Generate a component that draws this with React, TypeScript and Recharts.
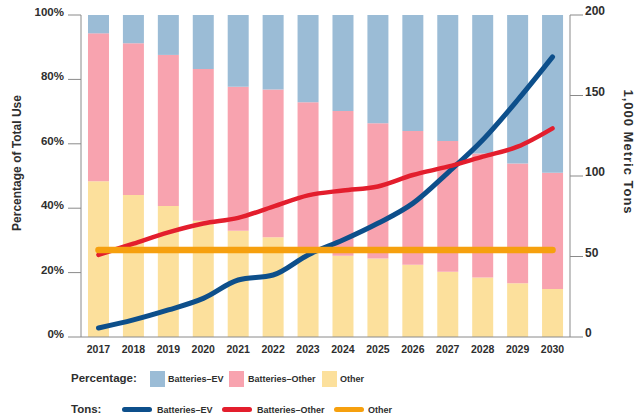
import React from 'react';
import { ComposedChart, Bar, Line, XAxis, YAxis } from 'recharts';

const years = ['2017', '2018', '2019', '2020', '2021', '2022', '2023', '2024', '2025', '2026', '2027', '2028', '2029', '2030'];

// Percentage of total use (stacked bars)
const pctOther = [48.4, 44.1, 40.7, 36.1, 33.0, 31.0, 27.5, 25.2, 24.4, 22.4, 20.3, 18.5, 16.7, 14.9];
const pctBatteriesOther = [45.9, 47.1, 46.9, 47.1, 44.7, 45.9, 45.4, 45.0, 42.0, 41.6, 40.6, 38.5, 37.2, 36.1];
const pctBatteriesEV = [5.7, 8.8, 12.4, 16.8, 22.3, 23.1, 27.1, 29.8, 33.6, 36.0, 39.1, 43.0, 46.1, 49.0];

// 1,000 metric tons (lines)
const tonsBatteriesEV = [5.6, 10.6, 16.8, 24.0, 35.4, 38.5, 51.0, 60.2, 70.6, 83.0, 102.0, 122.4, 147.2, 174.0];
const tonsBatteriesOther = [51.0, 58.0, 65.0, 70.5, 74.0, 81.0, 88.0, 91.0, 93.5, 100.6, 105.8, 112.0, 118.2, 129.6];
const tonsOther = [54, 54, 54, 54, 54, 54, 54, 54, 54, 54, 54, 54, 54, 54];

const pctTicks = [0, 20, 40, 60, 80, 100];
const tonTicks = [0, 50, 100, 150, 200];

const data = years.map((year, i) => ({
  year,
  pOther: pctOther[i],
  pBattOther: pctBatteriesOther[i],
  pBattEV: pctBatteriesEV[i],
  tEV: tonsBatteriesEV[i],
  tBattOther: tonsBatteriesOther[i],
  tOther: tonsOther[i],
}));

const FONT = '"Liberation Sans", Arial, Helvetica, sans-serif';
const C_EV_BAR = '#9bbcd6';
const C_BO_BAR = '#f8a3af';
const C_OT_BAR = '#fce09c';
const C_EV_LINE = '#0d4f8b';
const C_BO_LINE = '#e31e2d';
const C_OT_LINE = '#f6a00e';
const AXIS = '#8a8a8a';
const TEXT = '#2e2e2e';

const LeftTick = (props: any) => {
  const { x, y, payload } = props;
  return (
    <text x={x} y={y - 3} textAnchor="end" dominantBaseline="central" fontSize={11.5} fontWeight="bold" fill={TEXT} fontFamily={FONT}>
      {payload.value + '%'}
    </text>
  );
};

const RightTick = (props: any) => {
  const { x, y, payload } = props;
  return (
    <text x={x} y={y - 4} textAnchor="start" dominantBaseline="central" fontSize={12} fontWeight="bold" fill={TEXT} fontFamily={FONT}>
      {payload.value}
    </text>
  );
};

const BottomTick = (props: any) => {
  const { x, y, payload } = props;
  return (
    <text x={x} y={y + 8} textAnchor="middle" fontSize={10.5} fontWeight="bold" fill={TEXT} fontFamily={FONT}>
      {payload.value}
    </text>
  );
};

const AxisTitle = (props: any) => {
  const { tx, ty, rot, text, size, spacing } = props;
  return (
    <g transform={`translate(${tx}, ${ty}) rotate(${rot})`}>
      <text
        x={0}
        y={0}
        textAnchor="middle"
        dominantBaseline="central"
        fontSize={size}
        fontWeight="bold"
        letterSpacing={spacing}
        fill={TEXT}
        fontFamily={FONT}
      >
        {text}
      </text>
    </g>
  );
};

const swatch = (left: number, color: string): React.CSSProperties => ({
  position: 'absolute', left, top: 371, width: 15, height: 16, background: color,
});
const lineSw = (left: number, color: string): React.CSSProperties => ({
  position: 'absolute', left, top: 407, width: 30, height: 5, borderRadius: 3, background: color,
});
const label = (left: number, top: number, size: number): React.CSSProperties => ({
  position: 'absolute', left, top, fontSize: size, fontWeight: 'bold', color: TEXT, lineHeight: '14px',
  whiteSpace: 'nowrap', fontFamily: FONT,
});

export default function App() {
  return (
    <div style={{ position: 'absolute', left: 0, top: 0, width: 635, height: 418, background: '#fff', fontFamily: FONT }}>
      <ComposedChart
        width={635}
        height={418}
        data={data}
        margin={{ top: 15, right: 0, bottom: 51, left: 0 }}
        barCategoryGap="20%"
      >
        <XAxis
          dataKey="year"
          xAxisId="x"
          axisLine={{ stroke: AXIS }}
          tickLine={false}
          tick={<BottomTick />}
          height={30}
          interval={0}
        />
        <YAxis
          yAxisId="pct"
          orientation="left"
          width={81}
          domain={[0, 100]}
          ticks={pctTicks}
          axisLine={{ stroke: AXIS }}
          tickLine={{ stroke: AXIS }}
          tickSize={13}
          tickMargin={4}
          tick={<LeftTick />}
          label={<AxisTitle tx={17} ty={163} rot={-90} text="Percentage of Total Use" size={12} spacing={0} />}
        />
        <YAxis
          yAxisId="tons"
          orientation="right"
          width={65}
          domain={[0, 200]}
          ticks={tonTicks}
          axisLine={{ stroke: AXIS }}
          tickLine={{ stroke: AXIS }}
          tickSize={13}
          tickMargin={2}
          tick={<RightTick />}
          label={<AxisTitle tx={628.5} ty={152} rot={90} text="1,000 Metric Tons" size={13} spacing={1} />}
        />
        <Bar xAxisId="x" yAxisId="pct" dataKey="pOther" stackId="p" fill={C_OT_BAR} isAnimationActive={false} />
        <Bar xAxisId="x" yAxisId="pct" dataKey="pBattOther" stackId="p" fill={C_BO_BAR} isAnimationActive={false} />
        <Bar xAxisId="x" yAxisId="pct" dataKey="pBattEV" stackId="p" fill={C_EV_BAR} isAnimationActive={false} />
        <Line xAxisId="x" yAxisId="tons" type="monotone" dataKey="tEV" stroke={C_EV_LINE} strokeWidth={5} strokeLinecap="round" dot={false} activeDot={false} isAnimationActive={false} />
        <Line xAxisId="x" yAxisId="tons" type="monotone" dataKey="tBattOther" stroke={C_BO_LINE} strokeWidth={4.5} strokeLinecap="round" dot={false} activeDot={false} isAnimationActive={false} />
        <Line xAxisId="x" yAxisId="tons" type="monotone" dataKey="tOther" stroke={C_OT_LINE} strokeWidth={6.5} strokeLinecap="round" dot={false} activeDot={false} isAnimationActive={false} />
      </ComposedChart>

      {/* Legend */}
      <div style={label(71, 371, 11.5)}>Percentage:</div>
      <div style={swatch(150, C_EV_BAR)} />
      <div style={label(168, 372, 9)}>Batteries–EV</div>
      <div style={swatch(229, C_BO_BAR)} />
      <div style={label(248, 372, 9)}>Batteries–Other</div>
      <div style={swatch(322, C_OT_BAR)} />
      <div style={label(340, 372, 9)}>Other</div>

      <div style={label(71, 402, 11.5)}>Tons:</div>
      <div style={lineSw(122, C_EV_LINE)} />
      <div style={label(157, 403, 9)}>Batteries–EV</div>
      <div style={lineSw(222, C_BO_LINE)} />
      <div style={label(257, 403, 9)}>Batteries–Other</div>
      <div style={lineSw(334, C_OT_LINE)} />
      <div style={label(368, 403, 9)}>Other</div>
    </div>
  );
}
